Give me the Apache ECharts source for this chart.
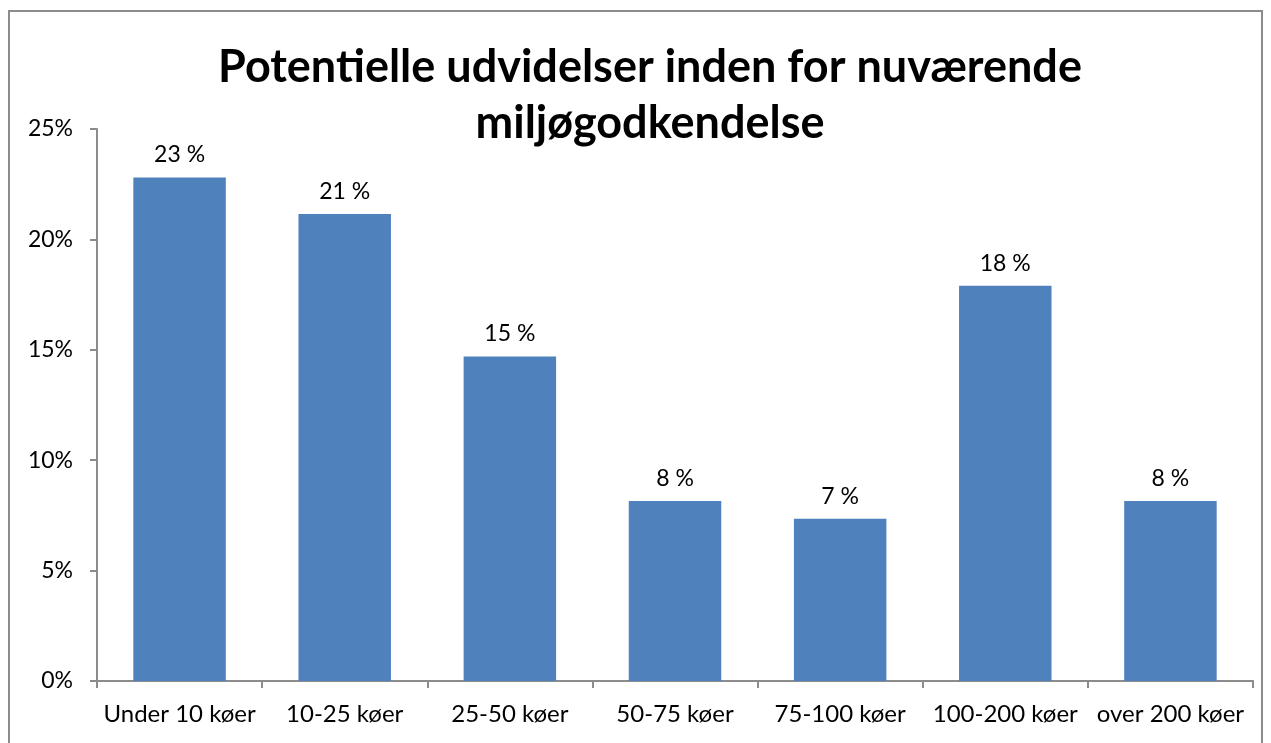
<!DOCTYPE html>
<html>
<head>
<meta charset="utf-8">
<script src="https://cdn.jsdelivr.net/npm/echarts@6/dist/echarts.min.js"></script>
<style>
  html, body { margin: 0; padding: 0; background: #fff; }
  #chart { width: 1271px; height: 743px; }
</style>
</head>
<body>
<div id="chart"></div>
<script>
// kategorier og værdier (procent)
const categories = ["Under 10 køer", "10-25 køer", "25-50 køer", "50-75 køer", "75-100 køer", "100-200 køer", "over 200 køer"];
const shares = [22.8, 21.15, 14.7, 8.15, 7.35, 17.9, 8.15];
const yTicks = [0, 5, 10, 15, 20, 25];

const chart = echarts.init(document.getElementById("chart"));
const font = "Lato, 'Open Sans', sans-serif";

const option = {
  animation: false,
  textStyle: { fontFamily: font },
  graphic: [
    {
      type: "rect",
      shape: { x: 9, y: 11, width: 1253, height: 760 },
      style: { fill: "none", stroke: "#8c8c8c", lineWidth: 2 },
    },
  ],
  title: {
    text: "Potentielle udvidelser inden for nuværende\nmiljøgodkendelse",
    left: 645,
    top: 34,
    textAlign: "center",
    textStyle: {
      fontFamily: font,
      fontWeight: "bold",
      fontSize: 45,
      lineHeight: 56,
      color: "#000",
    },
  },
  grid: { left: 97, right: 18, top: 129, bottom: 62 },
  xAxis: {
    type: "category",
    data: categories,
    axisLine: { lineStyle: { color: "#8c8c8c", width: 2 } },
    axisTick: { show: true, length: 7, lineStyle: { color: "#8c8c8c", width: 2 } },
    axisLabel: { color: "#000", fontSize: 24, margin: 21, fontFamily: font, interval: 0 },
  },
  yAxis: {
    type: "value",
    min: yTicks[0],
    max: yTicks[yTicks.length - 1],
    interval: 5,
    splitLine: { show: false },
    axisLine: { show: true, lineStyle: { color: "#8c8c8c", width: 2 } },
    axisTick: { show: true, length: 7, lineStyle: { color: "#8c8c8c", width: 2 } },
    axisLabel: { color: "#000", fontSize: 23, margin: 24, fontFamily: font, formatter: "{value}%" },
  },
  series: [
    {
      type: "bar",
      data: shares,
      barCategoryGap: "44%",
      itemStyle: { color: "#4f81bd" },
      label: {
        show: true,
        position: "top",
        distance: 11,
        color: "#000",
        fontSize: 23,
        fontFamily: font,
        formatter: (p) => Math.round(p.value) + " %",
      },
    },
  ],
};
chart.setOption(option);
window.onresize = () => chart.resize();
</script>
</body>
</html>
